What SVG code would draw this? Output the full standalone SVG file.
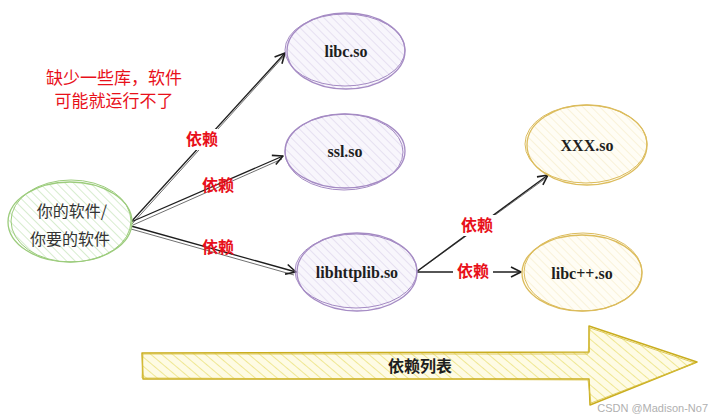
<svg xmlns="http://www.w3.org/2000/svg" width="727" height="418" viewBox="0 0 727 418">
<defs>
<pattern id="hG" width="6" height="6" patternUnits="userSpaceOnUse" patternTransform="rotate(-45)"><rect width="6" height="6" fill="#ffffff"/><line x1="0" y1="0" x2="0" y2="6" stroke="#cfe9c4" stroke-width="1.6"/></pattern>
<pattern id="hP" width="6" height="6" patternUnits="userSpaceOnUse" patternTransform="rotate(-45)"><rect width="6" height="6" fill="#f8f6fc"/><line x1="0" y1="0" x2="0" y2="6" stroke="#e2dbef" stroke-width="1.6"/></pattern>
<pattern id="hY" width="6" height="6" patternUnits="userSpaceOnUse" patternTransform="rotate(-45)"><rect width="6" height="6" fill="#fffdf5"/><line x1="0" y1="0" x2="0" y2="6" stroke="#f8f0d2" stroke-width="1.6"/></pattern>
<pattern id="hA" width="7" height="7" patternUnits="userSpaceOnUse" patternTransform="rotate(-50)"><rect width="7" height="7" fill="#fefbe4"/><line x1="0" y1="0" x2="0" y2="7" stroke="#ece27e" stroke-width="1.6"/></pattern>
<marker id="ah" viewBox="0 0 12 12" refX="11" refY="6" markerWidth="12" markerHeight="12" markerUnits="userSpaceOnUse" orient="auto"><path d="M1,1 L11,6 L1,11" fill="none" stroke="#1e1e1e" stroke-width="1.6" stroke-linejoin="round"/></marker>
<style>
.lbl{font-family:"Liberation Serif",serif;font-size:16px;font-weight:bold;fill:#1e1e1e;text-anchor:middle}
.cn{font-family:"Noto Sans CJK SC",sans-serif;text-anchor:middle}
.dep{font-family:"Noto Sans CJK SC",sans-serif;font-size:16px;font-weight:bold;fill:#e8101a;text-anchor:middle}
.pE{fill:url(#hP);stroke:#a58bc4;stroke-width:1.3}
.pE2{fill:none;stroke:#a58bc4;stroke-width:1}
.yE{fill:url(#hY);stroke:#dcbc5c;stroke-width:1.3}
.yE2{fill:none;stroke:#dcbc5c;stroke-width:1}
.con{fill:none;stroke:#1e1e1e;stroke-width:1.3}
.con2{fill:none;stroke:#1e1e1e;stroke-width:0.8;opacity:0.8}
</style>
</defs>
<rect width="727" height="418" fill="#ffffff"/>

<g id="connectors">
<path class="con" d="M131,222 L285,53" marker-end="url(#ah)"/>
<path class="con2" d="M132,224 L284,56"/>
<path class="con" d="M131,222 L283,156" marker-end="url(#ah)"/>
<path class="con2" d="M133,225 L282,159"/>
<path class="con" d="M131,226 L296,272" marker-end="url(#ah)"/>
<path class="con2" d="M131,229 L294,275"/>
<path class="con" d="M416,272 L548,175" marker-end="url(#ah)"/>
<path class="con2" d="M418,271 L546,178"/>
<path class="con" d="M416,272 L521,272" marker-end="url(#ah)"/>
</g>

<g id="labels">
<rect x="182" y="129" width="40" height="21" fill="#ffffff"/>
<text class="dep" x="202" y="145">依赖</text>
<text class="dep" x="218" y="191">依赖</text>
<text class="dep" x="218" y="253">依赖</text>
<rect x="457" y="215" width="40" height="21" fill="#ffffff"/>
<text class="dep" x="477" y="231">依赖</text>
<rect x="453" y="261" width="40" height="21" fill="#ffffff"/>
<text class="dep" x="473" y="277">依赖</text>
</g>

<g id="note">
<text class="cn" x="114" y="84" font-size="17" fill="#e8101a">缺少一些库，软件</text>
<text class="cn" x="114" y="107" font-size="17" fill="#e8101a">可能就运行不了</text>
</g>

<g id="node-app">
<ellipse cx="70" cy="222" rx="62" ry="40" fill="url(#hG)" stroke="#9ccc7c" stroke-width="1.3"/>
<ellipse cx="71" cy="221" rx="60" ry="41" fill="none" stroke="#9ccc7c" stroke-width="1"/>
<text class="cn" x="72" y="217" font-size="16" fill="#333333">你的软件/</text>
<text class="cn" x="70" y="245" font-size="16" fill="#333333">你要的软件</text>
</g>

<g id="node-libc">
<ellipse class="pE" cx="346" cy="51" rx="59" ry="38"/>
<ellipse class="pE2" cx="345" cy="50" rx="60" ry="36"/>
<text class="lbl" x="346" y="57">libc.so</text>
</g>

<g id="node-ssl">
<ellipse class="pE" cx="345" cy="151" rx="60" ry="37"/>
<ellipse class="pE2" cx="344" cy="152" rx="59" ry="38"/>
<text class="lbl" x="345" y="157">ssl.so</text>
</g>

<g id="node-libhttplib">
<ellipse class="pE" cx="357" cy="272" rx="60" ry="39"/>
<ellipse class="pE2" cx="356" cy="271" rx="61" ry="37"/>
<text class="lbl" x="357" y="278">libhttplib.so</text>
</g>

<g id="node-xxx">
<ellipse class="yE" cx="587" cy="145" rx="60" ry="40"/>
<ellipse class="yE2" cx="586" cy="144" rx="61" ry="39"/>
<text class="lbl" x="587" y="151">XXX.so</text>
</g>

<g id="node-libcpp">
<ellipse class="yE" cx="582" cy="273" rx="60" ry="38"/>
<ellipse class="yE2" cx="583" cy="272" rx="59" ry="39"/>
<text class="lbl" x="582" y="279">libc++.so</text>
</g>

<g id="big-arrow">
<path d="M142,353 L589,352 L589,326 L697,362 L590,405 L589,379 L143,379 Z" fill="url(#hA)" stroke="#c9ad1f" stroke-width="1.5" stroke-linejoin="round"/>
<path d="M143,354 L588,354 L590,328 L695,363 L591,403 L588,380 L142,378 Z" fill="none" stroke="#d8c040" stroke-width="0.8"/>
<text class="cn" x="420" y="372" font-size="16" font-weight="bold" fill="#1e1e1e">依赖列表</text>
</g>

<text x="708" y="412" font-family="Liberation Sans, sans-serif" font-size="11" fill="#b0b0b0" text-anchor="end">CSDN @Madison-No7</text>
</svg>
